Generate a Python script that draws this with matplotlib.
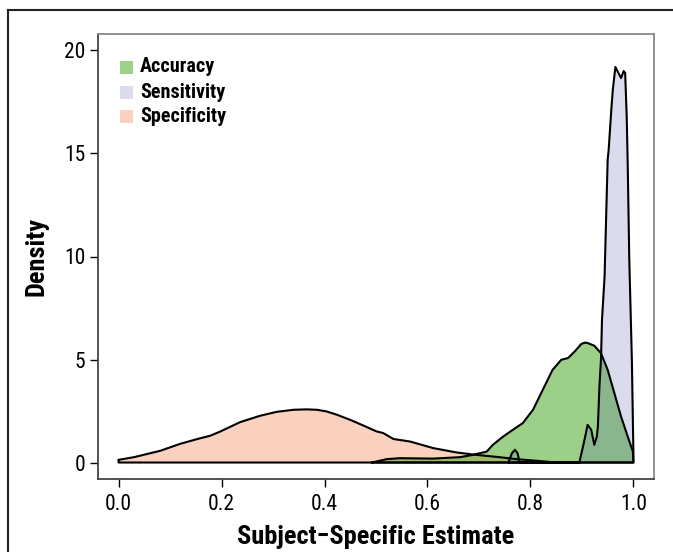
import matplotlib
matplotlib.use("Agg")
import matplotlib.pyplot as plt
from matplotlib.patches import Rectangle
from matplotlib.lines import Line2D

# density curves (x = estimate, y = density)
spec_x = [0.0, 0.03, 0.081, 0.12, 0.153, 0.178, 0.198, 0.236, 0.275, 0.307, 0.34, 0.365, 0.385,
          0.404, 0.424, 0.45, 0.475, 0.501, 0.514, 0.534, 0.566, 0.611, 0.656, 0.695, 0.74,
          0.77, 0.805, 0.837, 0.86]
spec_y = [0.13, 0.26, 0.57, 0.91, 1.14, 1.30, 1.51, 1.96, 2.27, 2.46, 2.56, 2.58, 2.56,
          2.48, 2.32, 2.07, 1.80, 1.51, 1.43, 1.14, 1.02, 0.70, 0.49, 0.37, 0.26,
          0.17, 0.10, 0.03, 0.0]

acc_x = [0.492, 0.521, 0.546, 0.611, 0.663, 0.688, 0.715, 0.727, 0.747, 0.766, 0.785, 0.805,
         0.824, 0.843, 0.86, 0.873, 0.886, 0.899, 0.906, 0.911, 0.924, 0.937, 0.95, 0.963,
         0.976, 0.989, 0.999, 1.0]
acc_y = [0.0, 0.165, 0.21, 0.19, 0.26, 0.37, 0.53, 0.86, 1.26, 1.59, 1.91, 2.56,
         3.53, 4.50, 4.99, 5.07, 5.39, 5.76, 5.82, 5.80, 5.67, 5.31, 4.50, 3.37,
         2.23, 1.26, 0.53, 0.0]

sens_x = [0.757, 0.764, 0.77, 0.775, 0.779, 0.83, 0.895, 0.905, 0.911, 0.918, 0.924, 0.929,
          0.931, 0.934, 0.937, 0.939, 0.944, 0.95, 0.952, 0.957, 0.96, 0.965, 0.971, 0.976,
          0.981, 0.984, 0.987, 0.989, 0.992, 0.997, 1.0, 1.0]
sens_y = [0.0, 0.45, 0.62, 0.45, 0.0, 0.0, 0.0, 1.1, 1.83, 1.59, 0.86, 1.26,
          1.75, 3.69, 4.99, 6.93, 9.03, 14.7, 15.2, 17.1, 18.1, 19.2, 18.9, 18.66,
          19.0, 18.9, 16.8, 14.4, 9.84, 4.99, 0.46, 0.0]

labels = ["Accuracy", "Sensitivity", "Specificity"]
fills = [(59/255, 163/255, 21/255, 0.5), (70/255, 80/255, 165/255, 0.2), "#FAD0BE"]
swatch = ["#9DD18A", "#DADCED", "#FAD0BE"]

x_ticks = [0.0, 0.2, 0.4, 0.6, 0.8, 1.0]
y_ticks = [0, 5, 10, 15, 20]

plt.rcParams["font.family"] = ["Roboto Condensed", "DejaVu Sans"]

W, H = 673, 552
fig = plt.figure(figsize=(W / 100, H / 100), dpi=100)
ax = fig.add_axes([98 / W, 1 - 479 / H, (654 - 98) / W, (479 - 34) / H])

curves = [(spec_x, spec_y, fills[2]), (acc_x, acc_y, fills[0]), (sens_x, sens_y, fills[1])]
for cx, cy, col in curves:
    px = list(cx) + [cx[-1], cx[0]]
    py = list(cy) + [0, 0]
    ax.fill(px, py, facecolor=col, edgecolor="none")
for cx, cy, col in curves:
    px = list(cx) + [cx[-1], cx[0], cx[0]]
    py = list(cy) + [0, 0, cy[0]]
    ax.plot(px, py, color="black", lw=1.5, solid_joinstyle="round", solid_capstyle="round")

ax.set_xlim(-0.04, 1.04)
ax.set_ylim(-0.8, 20.8)
ax.set_xticks(x_ticks)
ax.set_xticklabels(["%.1f" % v for v in x_ticks])
ax.set_yticks(y_ticks)
ax.tick_params(axis="both", direction="out", length=6, width=1, labelsize=15.5)
ax.tick_params(axis="x", pad=5)
ax.tick_params(axis="y", pad=3)
for s in ["left", "bottom"]:
    ax.spines[s].set_color("#444444")
for s in ["top", "right"]:
    ax.spines[s].set_color("#888888")
for s in ax.spines.values():
    s.set_linewidth(1.3)

ax.set_xlabel("Subject\u2212Specific Estimate", fontsize=19, fontweight="bold", labelpad=7)
ax.set_ylabel("Density", fontsize=19, fontweight="bold", labelpad=11)

# legend drawn by hand
for i, (lab, col) in enumerate(zip(labels, swatch)):
    yy = 67 + 25 * i
    fig.patches.append(Rectangle((120 / W, 1 - (yy + 6.5) / H), 13 / W, 13 / H,
                                 transform=fig.transFigure, facecolor=col, edgecolor="none"))
    fig.text(140 / W, 1 - yy / H, lab, fontsize=14.5, fontweight="bold",
             va="center", ha="left")

# outer frame (left and top only)
fig.add_artist(Line2D([7.5 / W, 7.5 / W], [0, 1 - 9.5 / H], color="#222222", lw=1.5))
fig.add_artist(Line2D([7.5 / W, 1], [1 - 9.5 / H, 1 - 9.5 / H], color="#222222", lw=1.5))

fig.savefig("out.png", dpi=100)
